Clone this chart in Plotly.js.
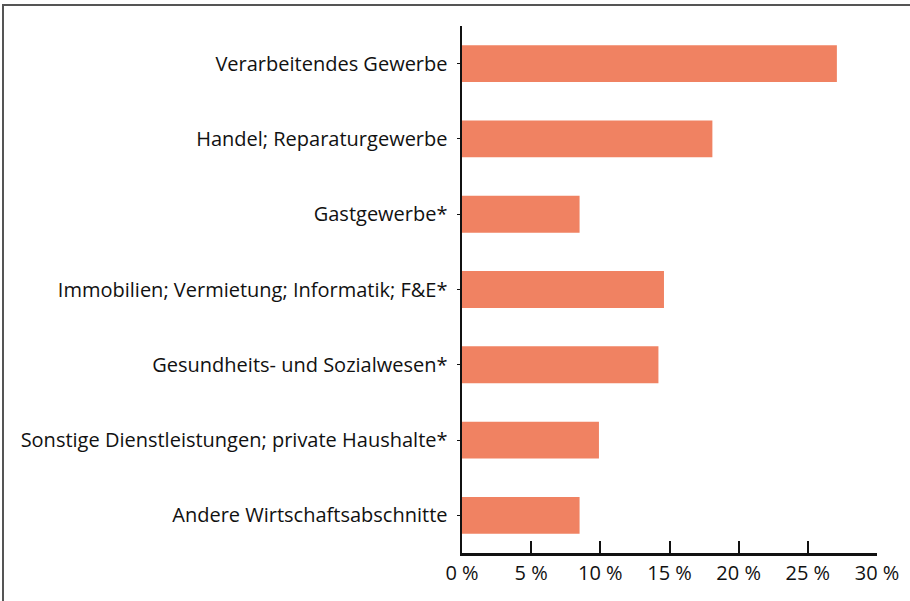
<!DOCTYPE html>
<html>
<head>
<meta charset="utf-8">
<script src="https://cdn.plot.ly/plotly-3.0.1.min.js"></script>
<style>
html,body{margin:0;padding:0;background:#fff;overflow:hidden;}
#frame{position:absolute;left:2px;top:4px;width:1000px;height:700px;border:2px solid #555;box-sizing:border-box;}
#chart{position:absolute;left:0;top:0;width:910px;height:601px;}
</style>
</head>
<body>
<div id="frame"></div>
<div id="chart"></div>
<script>
const categories = [
  "Verarbeitendes Gewerbe",
  "Handel; Reparaturgewerbe",
  "Gastgewerbe*",
  "Immobilien; Vermietung; Informatik; F&E*",
  "Gesundheits- und Sozialwesen*",
  "Sonstige Dienstleistungen; private Haushalte*",
  "Andere Wirtschaftsabschnitte"
];
const values = [27.1, 18.1, 8.5, 14.6, 14.2, 9.9, 8.5];
const tickVals = [0, 5, 10, 15, 20, 25, 30];
const tickText = ["0 %", "5 %", "10 %", "15 %", "20 %", "25 %", "30 %"];

const trace = {
  type: 'bar',
  orientation: 'h',
  x: values,
  y: categories,
  marker: {color: '#F08262'},
  width: 0.49,
  hoverinfo: 'x+y'
};

const layout = {
  width: 910, height: 601,
  margin: {l: 462, r: 33, t: 25.5, b: 47.5, pad: 0},
  paper_bgcolor: 'rgba(0,0,0,0)',
  plot_bgcolor: 'rgba(0,0,0,0)',
  showlegend: false,
  font: {family: '"Open Sans", sans-serif', color: '#111', size: 20},
  xaxis: {
    range: [0, 30],
    tickvals: tickVals,
    ticktext: tickText,
    ticks: 'inside',
    ticklen: 12,
    tickwidth: 2,
    tickcolor: '#111',
    showline: true,
    linewidth: 2.5,
    linecolor: '#111',
    showgrid: false,
    zeroline: false,
    tickfont: {size: 20},
    fixedrange: true
  },
  yaxis: {
    autorange: false,
    range: [6.5, -0.5],
    type: 'category',
    ticks: 'outside',
    ticklen: 3,
    tickwidth: 1,
    tickcolor: '#111',
    showline: true,
    linewidth: 2.5,
    linecolor: '#111',
    showgrid: false,
    zeroline: false,
    ticklabelstandoff: 5,
    tickfont: {size: 20},
    fixedrange: true
  }
};

Plotly.newPlot('chart', [trace], layout, {displayModeBar: false, staticPlot: true});
</script>
</body>
</html>
